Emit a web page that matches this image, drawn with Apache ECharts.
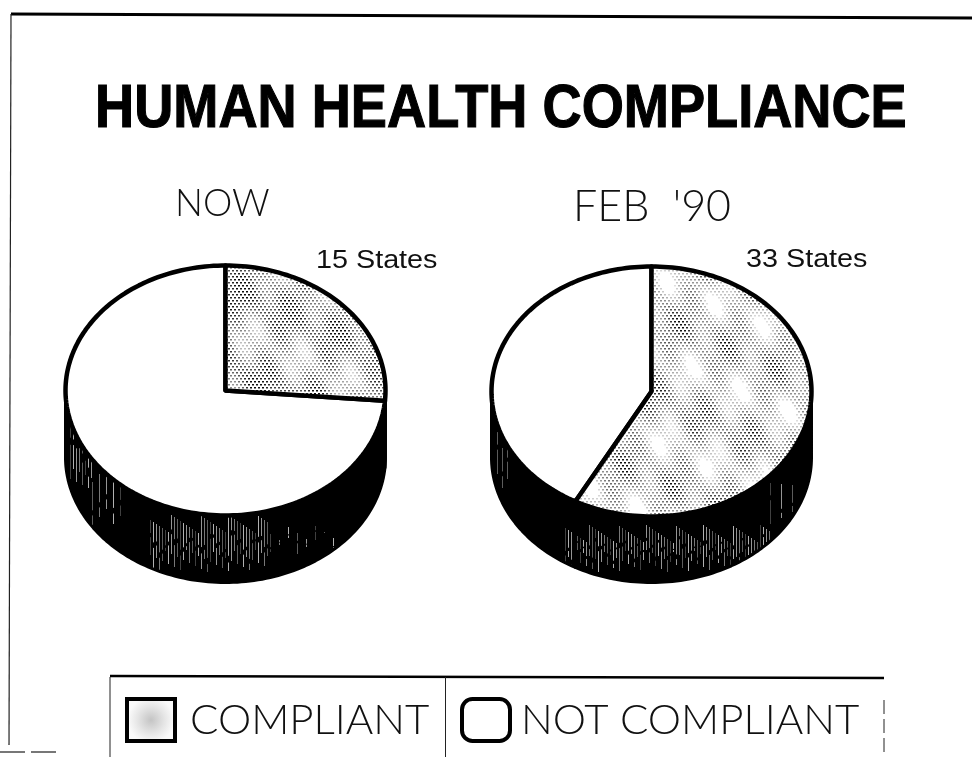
<!DOCTYPE html>
<html><head><meta charset="utf-8">
<style>html,body{margin:0;padding:0;background:#fff}#c{width:972px;height:757px}</style>
<script src="https://cdn.jsdelivr.net/npm/echarts@6/dist/echarts.min.js"></script>
</head><body><div id="c"></div>
<script>
const chartTitle = 'HUMAN HEALTH COMPLIANCE';
const panels = ['NOW', "FEB  '90"];
const compliant = [15, 33];
const notCompliant = [42, 24];
const valueUnit = 'States';

const W = 972, H = 757;
const pieGeo = [
  {cx: 225.5, cy: 390.5, rx: 160, ry: 125, depth: 67, lx: 316, ly: 261},
  {cx: 651.5, cy: 391.5, rx: 160, ry: 125, depth: 66, lx: 746, ly: 260}
];

function texture(draw){
  const c = document.createElement('canvas'); c.width = W; c.height = H;
  draw(c.getContext('2d')); return {image: c, repeat: 'no-repeat'};
}
const stipple = texture(g => {
  g.fillStyle = '#fff'; g.fillRect(0, 0, W, H);
  g.fillStyle = '#000';
  for (let y = 0; y < H; y += 3) {
    for (let x = (y / 3) % 2 ? 2 : 0; x < W; x += 4) {
      const patch = Math.sin(x / 9 + y / 23) + Math.sin(y / 13 - x / 29) + 0.6 * Math.sin(x / 5 - y / 7);
      const alpha = 0.5 + patch * 0.2 + (x < 450 ? 0.12 : -0.03);
      if (alpha > 0.12) { g.globalAlpha = Math.min(alpha, 0.95); g.fillRect(x, y, 2, 1.5); }
    }
  }
});
const streaks = texture(g => {
  g.fillStyle = '#000'; g.fillRect(0, 0, W, H);
  g.fillStyle = '#fff';
  const zones = [[70,92,405,490,3],[92,125,465,525,7],[150,270,515,572,3],[270,340,525,555,9],
                 [497,512,430,490,5],[565,770,525,572,3],[770,800,470,530,11]];
  zones.forEach(([x0, x1, y0, y1, step]) => {
    for (let x = x0; x < x1; x += step) {
      const a = y0 + ((x * 7) % 19), b = y1 - ((x * 11) % 23), cut = 0.3 + ((x * 5) % 7) / 14;
      g.globalAlpha = 0.25 + ((x * 13) % 5) / 9;
      g.fillRect(x, a, 1, (b - a) * cut);
      g.fillRect(x, a + (b - a) * (cut + 0.12), 1, (b - a) * (0.88 - cut));
    }
  });
});

function pt(p, deg, dy){
  const t = deg * Math.PI / 180;
  return [p.cx + p.rx * Math.sin(t), p.cy - p.ry * Math.cos(t) + (dy || 0)];
}
function arc(p, a, b, dy){
  const out = [];
  for (let d = a; d < b; d += 1.5) out.push(pt(p, d, dy));
  out.push(pt(p, b, dy));
  return out;
}
function sliceRender(showLabel, fill, before){
  return function(params, api){
    const i = api.value(0), v = api.value(1);
    const p = pieGeo[i];
    const total = compliant[i] + notCompliant[i];
    const start = before(i) / total * 360, end = start + v / total * 360;
    const children = [];
    const s0 = Math.max(start, 90), s1 = Math.min(end, 270);
    if (s1 > s0) {
      children.push({type: 'polygon', z2: 1,
        shape: {points: arc(p, s0, s1, 0).concat(arc(p, s0, s1, p.depth).reverse())},
        style: {fill: streaks, stroke: '#000', lineWidth: 3, lineJoin: 'round'}});
    }
    children.push({type: 'polygon', z2: 2,
      shape: {points: [[p.cx, p.cy]].concat(arc(p, start, end, 0))},
      style: {fill: fill, stroke: '#000', lineWidth: 4.5, lineJoin: 'round'}});
    if (showLabel) {
      children.push({type: 'text', z2: 3, x: p.lx, y: p.ly, scaleX: 1.15, style: {
        text: v + ' ' + valueUnit, verticalAlign: 'middle',
        fill: '#111', font: '25px "Liberation Sans"'}});
    }
    return {type: 'group', children};
  };
}
const rows = a => a.map((v, i) => [i, v]);
const thin = {fontFamily: 'Lato', fontWeight: 300, color: '#111'};
const iconFill = {type: 'radial', x: 0.5, y: 0.5, r: 0.5,
  colorStops: [{offset: 0, color: '#c4c4c4'}, {offset: 0.6, color: '#e6e6e6'}, {offset: 1, color: '#fafafa'}]};

const chart = echarts.init(document.getElementById('c'), null, {renderer: 'canvas'});
chart.setOption({
  animation: false,
  backgroundColor: '#fff',
  title: [
    {text: panels[0], left: 170, top: 181, textStyle: {...thin, fontSize: 37}},
    {text: panels[1], left: 568, top: 181, textStyle: {...thin, fontSize: 43}}
  ],
  legend: [
    {data: ['COMPLIANT'], left: 125, top: 697, itemWidth: 48, itemHeight: 42, itemGap: 0, icon: 'rect',
     padding: 0, selectedMode: false, textStyle: {...thin, fontSize: 42, padding: [0, 0, 0, 10]},
     itemStyle: {color: iconFill, borderColor: '#000', borderWidth: 4}},
    {data: ['NOT COMPLIANT'], left: 460, top: 697, itemWidth: 48, itemHeight: 42, itemGap: 0, icon: 'roundRect',
     padding: 0, selectedMode: false, textStyle: {...thin, fontSize: 42, padding: [0, 0, 0, 6]},
     itemStyle: {borderColor: '#000', borderWidth: 4}}
  ],
  graphic: [
    {type: 'text', x: 95, y: 110, scaleY: 1.14, style: {text: chartTitle, verticalAlign: 'middle', fill: '#000',
      font: 'bold 54.2px "Liberation Sans"', stroke: '#000', lineWidth: 1}},
    {type: 'line', shape: {x1: 11, y1: 14, x2: 972, y2: 18}, style: {stroke: '#000', lineWidth: 3}},
    {type: 'line', shape: {x1: 11, y1: 14, x2: 9, y2: 745}, style: {stroke: '#222', lineWidth: 1.2}},
    {type: 'line', shape: {x1: 0, y1: 752, x2: 60, y2: 752}, style: {stroke: '#777', lineWidth: 2, lineDash: [25, 6]}},
    {type: 'line', shape: {x1: 110, y1: 676, x2: 884, y2: 678}, style: {stroke: '#000', lineWidth: 2.5}},
    {type: 'line', shape: {x1: 110, y1: 677, x2: 110, y2: 757}, style: {stroke: '#222', lineWidth: 1}},
    {type: 'line', shape: {x1: 445.5, y1: 677, x2: 445.5, y2: 757}, style: {stroke: '#222', lineWidth: 1}},
    {type: 'line', shape: {x1: 884, y1: 700, x2: 884, y2: 757}, style: {stroke: '#222', lineWidth: 1, lineDash: [14, 5]}}
  ],
  series: [
    {type: 'custom', name: 'NOT COMPLIANT', coordinateSystem: 'none', silent: true, z: 2,
     itemStyle: {color: '#fff'}, data: rows(notCompliant),
     renderItem: sliceRender(false, '#fff', i => compliant[i])},
    {type: 'custom', name: 'COMPLIANT', coordinateSystem: 'none', silent: true, z: 3,
     itemStyle: {color: '#e2e2e2'}, data: rows(compliant),
     renderItem: sliceRender(true, stipple, () => 0)}
  ]
});
</script></body></html>
